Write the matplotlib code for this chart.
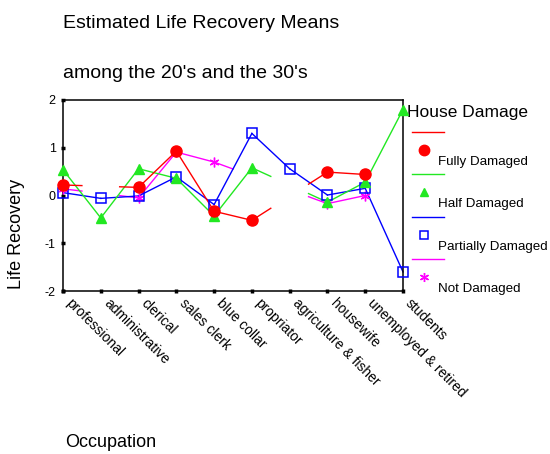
import numpy as np
import matplotlib.pyplot as plt
from matplotlib.transforms import ScaledTranslation

plt.rcParams['font.family'] = ['Liberation Sans', 'DejaVu Sans']

# Data (NaN = no mean for that group)
occupations = ["professional", "administrative", "clerical", "sales clerk",
               "blue collar", "propriator", "agriculture & fisher",
               "housewife", "unemployed & retired", "students"]
fully_damaged = [0.22, np.nan, 0.17, 0.93, -0.33, -0.52, np.nan, 0.49, 0.44, np.nan]
half_damaged = [0.54, -0.47, 0.56, 0.36, -0.43, 0.58, np.nan, -0.14, 0.28, 1.80]
partially_damaged = [0.06, -0.06, -0.01, 0.39, -0.19, 1.30, 0.56, 0.01, 0.15, -1.60]
not_damaged = [0.14, np.nan, -0.05, 0.91, 0.70, np.nan, np.nan, -0.17, 0.00, np.nan]
series_names = ["Fully Damaged", "Half Damaged", "Partially Damaged", "Not Damaged"]

RED, GREEN, BLUE, MAGENTA = '#ff0000', '#22e822', '#0000ff', '#ff00ff'
styles = {
    "Fully Damaged": dict(color=RED, marker='o', ms=8, mfc=RED, mec=RED, mew=1),
    "Half Damaged": dict(color=GREEN, marker='^', ms=6.5, mfc=GREEN, mec=GREEN, mew=1),
    "Partially Damaged": dict(color=BLUE, marker='s', ms=6.5, mfc='none', mec=BLUE, mew=1.1),
    "Not Damaged": dict(color=MAGENTA, marker=(6, 2, 0), ms=7, mfc=MAGENTA, mec=MAGENTA, mew=1),
}
values = {"Fully Damaged": fully_damaged, "Half Damaged": half_damaged,
          "Partially Damaged": partially_damaged, "Not Damaged": not_damaged}

fig = plt.figure(figsize=(5.5, 4.54), dpi=100)
W, H = 550, 454
ax = fig.add_axes([63 / W, 1 - 291 / H, 340 / W, 191 / H])


def draw_series(ax, y, st):
    y = np.asarray(y, float)
    idx = np.flatnonzero(~np.isnan(y))
    # connect valid points; across a missing group only half a step is drawn at each end
    for a, b in zip(idx[:-1], idx[1:]):
        if b - a == 1:
            ax.plot([a, b], [y[a], y[b]], color=st['color'], lw=1, clip_on=False)
        else:
            slope = (y[b] - y[a]) / (b - a)
            ax.plot([a, a + 0.5], [y[a], y[a] + 0.5 * slope], color=st['color'], lw=1, clip_on=False)
            ax.plot([b - 0.5, b], [y[b] - 0.5 * slope, y[b]], color=st['color'], lw=1, clip_on=False)
    ax.plot(idx, y[idx], ls='none', marker=st['marker'], ms=st['ms'], mfc=st['mfc'],
            mec=st['mec'], mew=st['mew'], clip_on=False, zorder=3)


for name in ["Not Damaged", "Partially Damaged", "Half Damaged", "Fully Damaged"]:
    draw_series(ax, values[name], styles[name])

ax.set_xlim(0, len(occupations) - 1)
ax.set_ylim(-2, 2)
ax.set_yticks([-2, -1, 0, 1, 2])
ax.set_yticklabels(['-2', '-1', '0', '1', '2'], fontsize=9)
ax.set_xticks(np.arange(len(occupations)))
ax.set_xticklabels(occupations, rotation=-45, ha='left', va='center',
                   rotation_mode='anchor', fontsize=10)
ax.tick_params(direction='inout', length=2.5, width=2.5, pad=4)
ax.tick_params(axis='x', pad=6)
shift = ScaledTranslation(0.05, 0, fig.dpi_scale_trans)
for lab in ax.get_xticklabels():
    lab.set_transform(lab.get_transform() + shift)
for s in ax.spines.values():
    s.set_linewidth(1.1)

# overlay in pixel coordinates for titles and legend
ov = fig.add_axes([0, 0, 1, 1], zorder=-1)
ov.set_xlim(0, W)
ov.set_ylim(H, 0)
ov.axis('off')

ov.text(63, 28.5, "Estimated Life Recovery Means", fontsize=14, va='baseline', ha='left')
ov.text(63, 78, "among the 20's and the 30's", fontsize=14, va='baseline', ha='left')
ov.text(17, 234, "Life Recovery", fontsize=13, rotation=90, va='center', ha='center')
ov.text(65, 447, "Occupation", fontsize=13, va='baseline', ha='left')

ov.text(407, 117, "House Damage", fontsize=12.5, va='baseline', ha='left')
for i, name in enumerate(series_names):
    st = styles[name]
    y0 = 131.7 + 42.5 * i
    ov.plot([412, 444], [y0, y0], color=st['color'], lw=1)
    ov.plot([424], [y0 + 18], ls='none', marker=st['marker'], ms=st['ms'] - 0.5,
            mfc=st['mfc'], mec=st['mec'], mew=st['mew'])
    ov.text(438, y0 + 33, name, fontsize=9.6, va='baseline', ha='left')

fig.savefig('out.png', dpi=100)
